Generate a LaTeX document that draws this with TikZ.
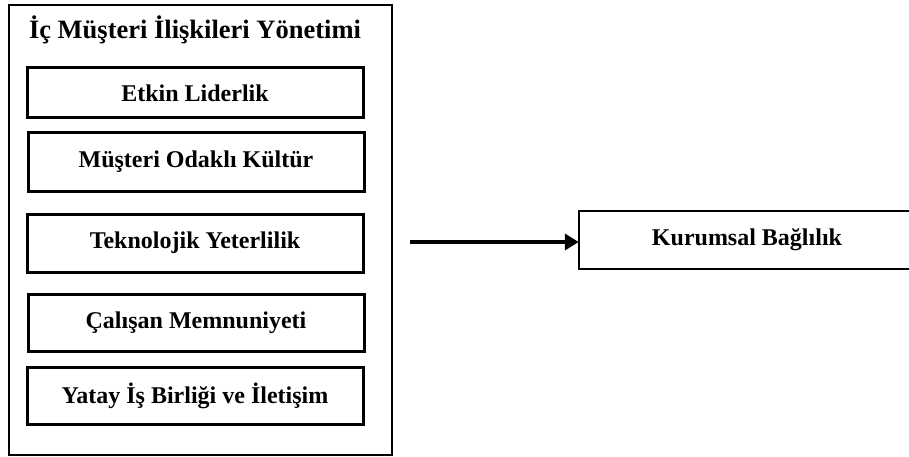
\documentclass[tikz,border=0pt]{standalone}
\usepackage{fontspec}
\setmainfont{Liberation Serif}
\usetikzlibrary{arrows.meta}
\tikzset{
  factor/.style={draw, line width=3pt, minimum width=336pt, minimum height=57pt,
    inner sep=0pt, font=\fontsize{24}{28}\selectfont\bfseries},
  outcome/.style={line width=2.4pt, minimum width=350pt, minimum height=56pt,
    inner sep=0pt, font=\fontsize{24}{28}\selectfont\bfseries}
}
\begin{document}
\begin{tikzpicture}[x=1pt,y=-1pt]
\useasboundingbox (0,0) rectangle (909,457);
\draw[line width=2.2pt] (9,5) rectangle (392,455);
\node[font=\fontsize{26.5}{30}\selectfont\bfseries] (title) at (195,30) {İç Müşteri İlişkileri Yönetimi};
\node[factor, minimum height=50pt] (lider) at (195,93) {Etkin Liderlik};
\node[factor, minimum height=58pt] (kultur) at (196,162) {Müşteri Odaklı Kültür};
\node[factor, minimum height=58pt] (tekno) at (195,243) {Teknolojik Yeterlilik};
\node[factor] (calisan) at (196,323) {Çalışan Memnuniyeti};
\node[factor] (yatay) at (195,396) {Yatay İş Birliği ve İletişim};
\node[outcome] (bag) at (755,240) {\hspace*{-16pt}Kurumsal Bağlılık};
% box open at the page edge
\draw[line width=2.4pt] (bag.north east) -- (bag.north west) -- (bag.south west) -- (bag.south east);
\coordinate (from) at (410,242);
\draw[line width=3.8pt, -{Triangle[length=14pt,width=16pt]}] (from) -- (bag.west |- from);
\end{tikzpicture}
\end{document}
